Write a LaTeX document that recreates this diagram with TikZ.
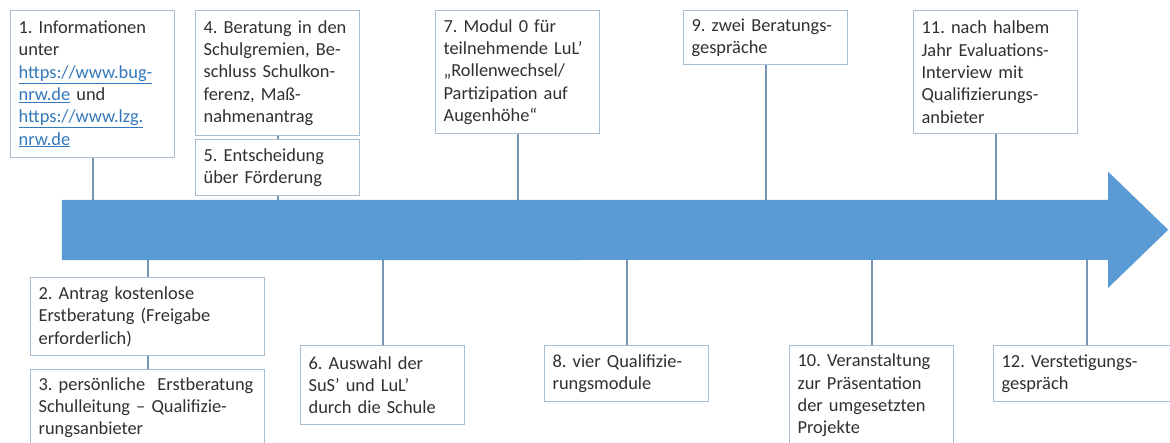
\documentclass[tikz,border=0pt]{standalone}
\usepackage{fontspec}
\setmainfont{Carlito}
\frenchspacing
\definecolor{arrowblue}{RGB}{91,155,213}
\definecolor{boxline}{RGB}{168,190,210}
\definecolor{stemline}{RGB}{118,150,182}
\definecolor{txtgrey}{RGB}{48,48,48}
\definecolor{linkblue}{RGB}{52,120,188}
\newcommand{\lnk}[1]{\textcolor{linkblue}{\underline{#1}}}
\tikzset{
  infobox/.style={draw=boxline, line width=1.2pt, fill=white, anchor=north west,
    align=left, inner xsep=8pt, inner ysep=0pt, text width=148pt, text=txtgrey,
    font=\fontsize{18.4}{22.3}\selectfont},
  widebox/.style={infobox, text width=218pt},
  stem/.style={draw=stemline, line width=1.8pt},
  band/.style={minimum width=1046pt, minimum height=60pt, inner sep=0pt}
}
\begin{document}
\begin{tikzpicture}[x=1pt,y=-1pt]
\useasboundingbox (0,0) rectangle (1170,443);
\clip (0,0) rectangle (1170,443);
\node[band] (band) at (585,230) {};
\fill[arrowblue] (band.north west) -- (band.north east) -- ++(0,-28) -- ++(60,58)
  -- ++(-60,58) -- ++(0,-28) -- (band.south west) -- cycle;
\node[infobox, minimum height=147pt] (b1) at (10,10) {1. Informationen\\ unter\\
  \lnk{https://www.bug-}\\ \lnk{nrw.de} und\\ \lnk{https://www.lzg.}\\ \lnk{nrw.de}};
\node[infobox, minimum height=125pt] (b4) at (195,10) {4. Beratung in den\\
  Schulgremien, Be-\\ schluss Schulkon-\\ ferenz, Maß-\\ nahmenantrag};
\node[infobox, minimum height=56pt] (b5) at (195,139) {5. Entscheidung\\ über Förderung};
\node[infobox, minimum height=123pt] (b7) at (435,10) {7. Modul 0 für\\
  teilnehmende LuL’\\ „Rollenwechsel/\\ Partizipation auf\\ Augenhöhe“};
\node[infobox, minimum height=54pt] (b9) at (683,10) {9. zwei Beratungs-\\ gespräche};
\node[infobox, minimum height=123pt] (b11) at (913,10) {11. nach halbem\\
  Jahr Evaluations-\\ Interview mit\\ Qualifizierungs-\\ anbieter};
\node[widebox, minimum height=78pt] (b2) at (30,277) {2. Antrag kostenlose\\
  Erstberatung (Freigabe\\ erforderlich)};
\node[widebox, minimum height=76pt] (b3) at (30,369) {3. persönliche\ \ Erstberatung\\
  Schulleitung – Qualifizie-\\ rungsanbieter};
\node[infobox, minimum height=79pt] (b6) at (300,345) {6. Auswahl der\\ SuS’ und LuL’\\
  durch die Schule};
\node[infobox, minimum height=56pt] (b8) at (544,345) {8. vier Qualifizie-\\ rungsmodule};
\node[infobox, minimum height=100pt] (b10) at (789,345) {10. Veranstaltung\\
  zur Präsentation\\ der umgesetzten\\ Projekte};
\node[infobox, text width=170pt, minimum height=56pt] (b12) at (993,345) {12. Verstetigungs-\\ gespräch};
\draw[stem] (b1.south) -- (b1.south |- band.north);
\draw[stem] (b4.south) -- (b5.north);
\draw[stem] (b5.south) -- (b5.south |- band.north);
\draw[stem] (b7.south) -- (b7.south |- band.north);
\draw[stem] (b9.south) -- (b9.south |- band.north);
\draw[stem] (b11.south) -- (b11.south |- band.north);
\draw[stem] (band.south -| b2.north) -- (b2.north);
\draw[stem] (b2.south) -- (b3.north);
\draw[stem] (band.south -| b6.north) -- (b6.north);
\draw[stem] (band.south -| b8.north) -- (b8.north);
\draw[stem] (band.south -| b10.north) -- (b10.north);
\draw[stem] (band.south -| b12.north) -- (b12.north);
\end{tikzpicture}
\end{document}
